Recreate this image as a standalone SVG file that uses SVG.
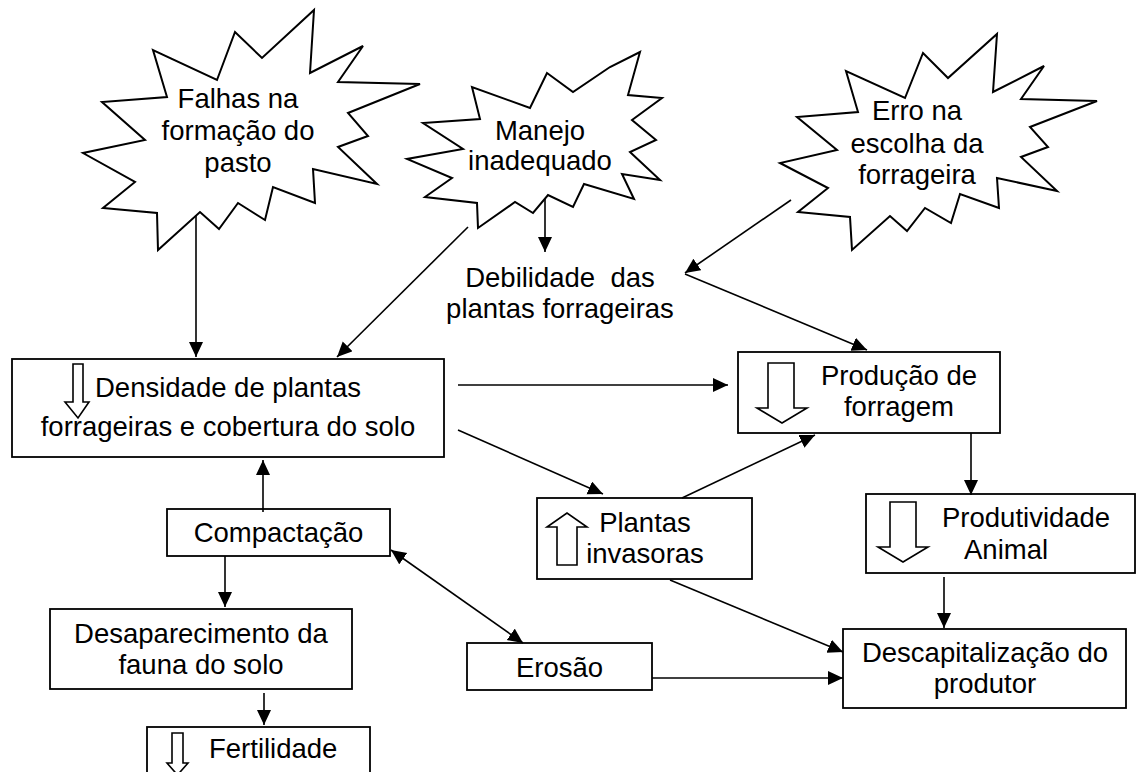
<svg xmlns="http://www.w3.org/2000/svg" width="1139" height="772" viewBox="0 0 1139 772">
<style>
text{font-family:"Liberation Sans",Arial,sans-serif;font-size:27.5px;fill:#000}
.c{text-anchor:middle}
.box{fill:#fff;stroke:#000;stroke-width:1.8}
.star{fill:#fff;stroke:#000;stroke-width:2;stroke-linejoin:miter}
.ha{fill:#fff;stroke:#000;stroke-width:1.6}
.ln{fill:none;stroke:#000;stroke-width:1.6}
</style>
<defs>
<marker id="ah" markerUnits="userSpaceOnUse" markerWidth="16" markerHeight="16" refX="15" refY="7" orient="auto-start-reverse">
<path d="M0,0 L15,7 L0,14 z" fill="#000"/>
</marker>
</defs>
<rect width="1139" height="772" fill="#fff"/>

<g id="falhas">
<polygon class="star" points="314,10 310,73 363,46 338,82 420,84 348,113 368,136 338,147 377,184 313,169 315,203 273,187 265,220 238,203 219,229 200,212 158,250 157,213 103,208 135,182 83,153 145,140 102,102 167,97 153,50 217,80 235,32 262,58"/>
<text class="c" x="238" y="108">Falhas na</text>
<text class="c" x="238" y="140">formação do</text>
<text class="c" x="238" y="172">pasto</text>
</g>

<g id="manejo">
<polygon class="star" points="547,73 573,92 610,67 640,52 628,95 662,98 632,120 656,140 630,152 660,180 622,174 634,199 584,184 573,207 548,195 533,213 515,202 478,228 477,203 425,197 452,178 407,159 463,149 423,123 480,119 472,87 530,108"/>
<text class="c" x="540" y="140">Manejo</text>
<text class="c" x="540" y="170">inadequado</text>
</g>

<g id="erro">
<polygon class="star" points="997,34 993,92 1044,66 1021,99 1097,101 1030,127 1048,147 1021,157 1057,191 997,178 999,208 960,194 951,223 925,208 907,231 890,216 852,250 850,217 798,212 828,188 780,163 837,150 797,117 858,112 846,71 905,98 923,53 948,78"/>
<text class="c" x="917" y="120">Erro na</text>
<text class="c" x="917" y="153">escolha da</text>
<text class="c" x="917" y="184">forrageira</text>
</g>

<g id="debilidade">
<text class="c" x="560" y="287" style="white-space:pre" xml:space="preserve">Debilidade  das</text>
<text class="c" x="560" y="318">plantas forrageiras</text>
</g>

<g id="densidade">
<rect class="box" x="12" y="359" width="432" height="98"/>
<polygon class="ha" points="73,364 83,364 83,402 89,402 78,418 65,402 73,402"/>
<text class="c" x="228" y="397">Densidade de plantas</text>
<text class="c" x="228" y="436">forrageiras e cobertura do solo</text>
</g>

<g id="producao">
<rect class="box" x="738" y="352" width="262" height="81"/>
<polygon class="ha" points="768,363 794,363 794,408 807,408 782,423 757,408 768,408"/>
<text class="c" x="899" y="385">Produção de</text>
<text class="c" x="899" y="416">forragem</text>
</g>

<g id="plantas">
<rect class="box" x="537" y="498" width="215" height="81"/>
<polygon class="ha" points="557,565 557,527 547,527 567,513 587,527 577,527 577,565"/>
<text class="c" x="645" y="532">Plantas</text>
<text class="c" x="645" y="563">invasoras</text>
</g>

<g id="produtividade">
<rect class="box" x="866" y="494" width="269" height="79"/>
<polygon class="ha" points="890,502 916,502 916,547 928,547 903,562 878,547 890,547"/>
<text x="942" y="527">Produtividade</text>
<text x="964" y="559">Animal</text>
</g>

<g id="compactacao">
<rect class="box" x="167" y="509" width="223" height="47"/>
<text class="c" x="278.5" y="542">Compactação</text>
</g>

<g id="desaparecimento">
<rect class="box" x="50" y="609" width="302" height="80"/>
<text class="c" x="201" y="643">Desaparecimento da</text>
<text class="c" x="201" y="674">fauna do solo</text>
</g>

<g id="fertilidade">
<rect class="box" x="147" y="727" width="223" height="80"/>
<polygon class="ha" points="172,733 183,733 183,763 188,763 177.5,775 167,763 172,763"/>
<text x="209" y="758">Fertilidade</text>
</g>

<g id="erosao">
<rect class="box" x="467" y="643" width="185" height="47"/>
<text class="c" x="559.5" y="677">Erosão</text>
</g>

<g id="descapitalizacao">
<rect class="box" x="843" y="629" width="283" height="79"/>
<text class="c" x="985" y="662">Descapitalização do</text>
<text class="c" x="985" y="693">produtor</text>
</g>

<g id="connectors">
<line class="ln" x1="196" y1="215" x2="196" y2="357" marker-end="url(#ah)"/>
<line class="ln" x1="468" y1="227" x2="337" y2="357" marker-end="url(#ah)"/>
<line class="ln" x1="545" y1="199" x2="545" y2="252" marker-end="url(#ah)"/>
<line class="ln" x1="791" y1="200" x2="685" y2="273" marker-end="url(#ah)"/>
<line class="ln" x1="685" y1="274" x2="867" y2="350" marker-end="url(#ah)"/>
<line class="ln" x1="458" y1="385" x2="728" y2="385" marker-end="url(#ah)"/>
<line class="ln" x1="458" y1="430" x2="603" y2="494" marker-end="url(#ah)"/>
<line class="ln" x1="682" y1="498" x2="815" y2="435" marker-end="url(#ah)"/>
<line class="ln" x1="971" y1="433" x2="971" y2="495" marker-end="url(#ah)"/>
<line class="ln" x1="944" y1="577" x2="944" y2="628" marker-end="url(#ah)"/>
<line class="ln" x1="670" y1="580" x2="843" y2="652" marker-end="url(#ah)"/>
<line class="ln" x1="652" y1="678" x2="843" y2="678" marker-end="url(#ah)"/>
<line class="ln" x1="263" y1="512" x2="263" y2="460" marker-end="url(#ah)"/>
<line class="ln" x1="225" y1="556" x2="225" y2="607" marker-end="url(#ah)"/>
<line class="ln" x1="264" y1="693" x2="264" y2="725" marker-end="url(#ah)"/>
<line class="ln" x1="391" y1="550" x2="523" y2="643" marker-start="url(#ah)" marker-end="url(#ah)"/>
</g>
</svg>
